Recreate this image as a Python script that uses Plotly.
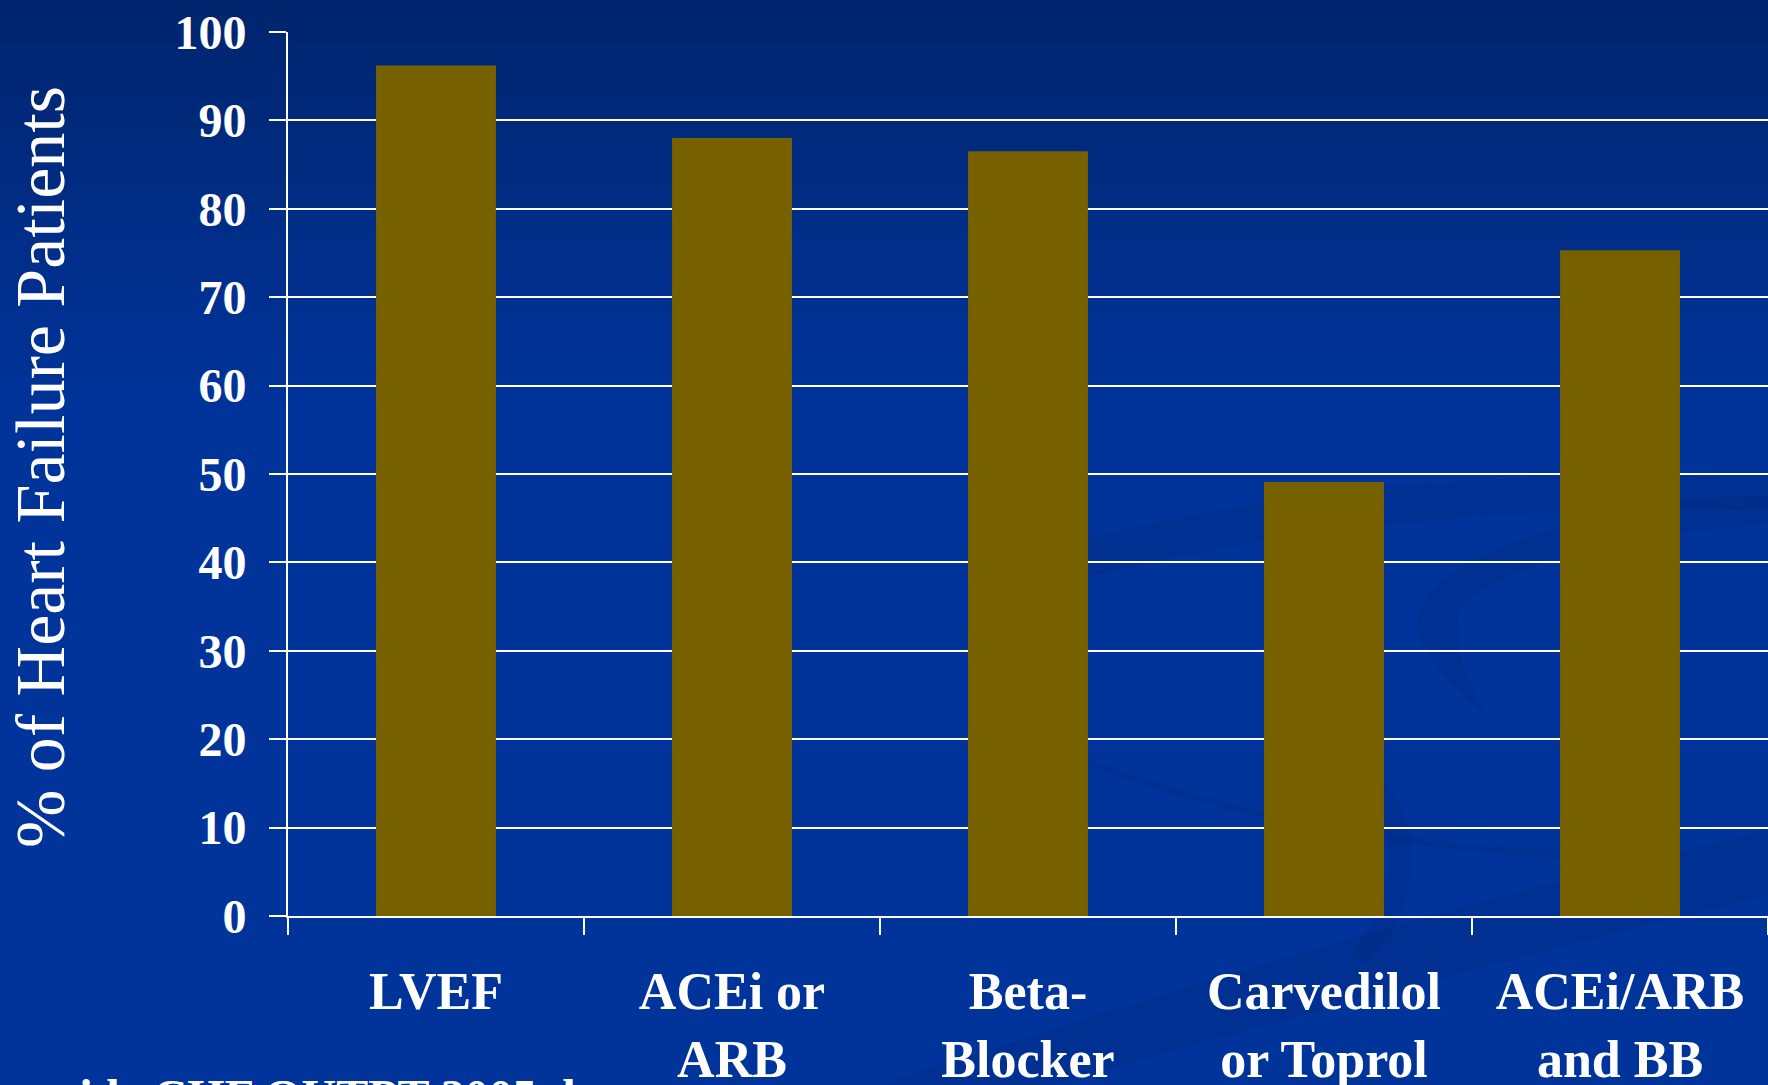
import plotly.graph_objects as go

# ---- data ----
categories = ["LVEF", "ACEi or<br>ARB", "Beta-<br>Blocker", "Carvedilol<br>or Toprol", "ACEi/ARB<br>and BB"]
values = [96.2, 88.0, 86.5, 49.1, 75.3]
y_ticks = [0, 10, 20, 30, 40, 50, 60, 70, 80, 90, 100]

W, H = 1768, 1085
L, T, B, R = 288, 32, 169, 0
PW, PH = W - L - R, H - T - B

def px(X):
    return (X - L) / PW

def py(Y):
    return (H - B - Y) / PH

fig = go.Figure()
fig.add_trace(go.Bar(
    x=categories, y=values, width=0.405,
    marker=dict(color="#766000", line=dict(width=0)),
    hoverinfo="x+y",
))

shapes = []
# vertical gradient background (top darker)
c0 = (0x00, 0x25, 0x6e)
c1 = (0x00, 0x34, 0x9b)
steps = 30
gh = 420
for i in range(steps):
    t = i / (steps - 1)
    col = tuple(round(c0[k] + (c1[k] - c0[k]) * t) for k in range(3))
    y0 = gh * i / steps
    y1 = gh * (i + 1) / steps + 1
    shapes.append(dict(type="rect", xref="paper", yref="paper", layer="below",
                       x0=px(-2), x1=px(W + 2), y0=py(y1), y1=py(y0 - (2 if i == 0 else 0)),
                       fillcolor="rgb(%d,%d,%d)" % col, line=dict(width=0)))

swoosh = "rgba(0,25,95,0.14)"
def path(points):
    s = "M %f,%f" % (px(points[0][0]), py(points[0][1]))
    rest = points[1:]
    for j in range(0, len(rest), 3):
        a, b, c = rest[j:j + 3]
        s += " C %f,%f %f,%f %f,%f" % (px(a[0]), py(a[1]), px(b[0]), py(b[1]), px(c[0]), py(c[1]))
    return s + " Z"

# upper band
shapes.append(dict(type="path", xref="paper", yref="paper", layer="below",
                   path=path([(1060, 545), (1300, 480), (1550, 470), (1770, 478),
                              (1770, 500), (1770, 505), (1770, 510),
                              (1550, 505), (1300, 520), (1060, 585),
                              (1050, 580), (1050, 560), (1060, 545)]),
                   fillcolor=swoosh, line=dict(width=0)))
# loop
shapes.append(dict(type="path", xref="paper", yref="paper", layer="below",
                   path=path([(1770, 495), (1600, 500), (1390, 560), (1420, 640),
                              (1440, 680), (1480, 710), (1500, 730),
                              (1470, 700), (1450, 640), (1460, 610),
                              (1500, 560), (1650, 530), (1770, 525),
                              (1770, 515), (1770, 505), (1770, 495)]),
                   fillcolor=swoosh, line=dict(width=0)))
# thin diagonal line
shapes.append(dict(type="path", xref="paper", yref="paper", layer="below",
                   path=path([(1090, 760), (1200, 800), (1350, 840), (1560, 850),
                              (1560, 855), (1560, 857), (1560, 858),
                              (1350, 846), (1200, 808), (1090, 766),
                              (1088, 764), (1088, 762), (1090, 760)]),
                   fillcolor=swoosh, line=dict(width=0)))
# lower band
shapes.append(dict(type="path", xref="paper", yref="paper", layer="below",
                   path=path([(880, 1085), (1200, 980), (1500, 890), (1770, 830),
                              (1770, 860), (1770, 880), (1770, 895),
                              (1500, 960), (1250, 1030), (1050, 1085),
                              (1000, 1085), (950, 1085), (880, 1085)]),
                   fillcolor=swoosh, line=dict(width=0)))
# big curve near bottom centre-right
shapes.append(dict(type="path", xref="paper", yref="paper", layer="below",
                   path=path([(1330, 740), (1420, 780), (1440, 880), (1370, 960),
                              (1360, 965), (1355, 960), (1350, 955),
                              (1410, 880), (1400, 790), (1320, 750),
                              (1322, 746), (1326, 742), (1330, 740)]),
                   fillcolor=swoosh, line=dict(width=0)))

font_family = "Liberation Serif, Times New Roman, serif"

fig.update_layout(
    width=W, height=H,
    margin=dict(l=L, r=R, t=T, b=B, pad=0, autoexpand=False),
    paper_bgcolor="#00349b",
    plot_bgcolor="rgba(0,0,0,0)",
    showlegend=False,
    shapes=shapes,
    bargap=0.6,
    font=dict(family=font_family, color="white"),
    xaxis=dict(
        type="category", automargin=False,
        showline=True, linecolor="white", linewidth=2,
        showgrid=False, zeroline=False,
        ticks="outside", tickson="boundaries", ticklen=17, tickwidth=2, tickcolor="white",
        tickfont=dict(family=font_family, size=52, color="white", weight="bold"),
        ticklabelstandoff=29,
        range=[-0.5, 4.5],
        fixedrange=True,
    ),
    yaxis=dict(
        automargin=False,
        range=[0, 100],
        tickvals=y_ticks,
        ticktext=[str(v) for v in y_ticks],
        showline=True, linecolor="white", linewidth=2,
        showgrid=True, gridcolor="white", gridwidth=2,
        zeroline=False,
        ticks="outside", ticklen=17, tickwidth=2, tickcolor="white",
        tickfont=dict(family=font_family, size=48, color="white", weight="bold"),
        ticklabelstandoff=13,
        fixedrange=True,
    ),
    annotations=[
        dict(text="% of Heart Failure Patients", textangle=-90,
             xref="paper", yref="paper", x=px(40), y=py(467),
             xanchor="center", yanchor="middle", showarrow=False,
             font=dict(family=font_family, size=70, color="white")),
        dict(text="Nationwide CHF OUTPT 2005 data", xref="paper", yref="paper",
             x=px(-96), y=py(1068), xanchor="left", yanchor="top", showarrow=False,
             font=dict(family=font_family, size=48, color="white", weight="bold")),
    ],
)

fig.write_html(
    "out.html",
    config={"displayModeBar": False},
    post_script="document.body.style.margin='0';document.body.style.overflow='hidden';",
)
